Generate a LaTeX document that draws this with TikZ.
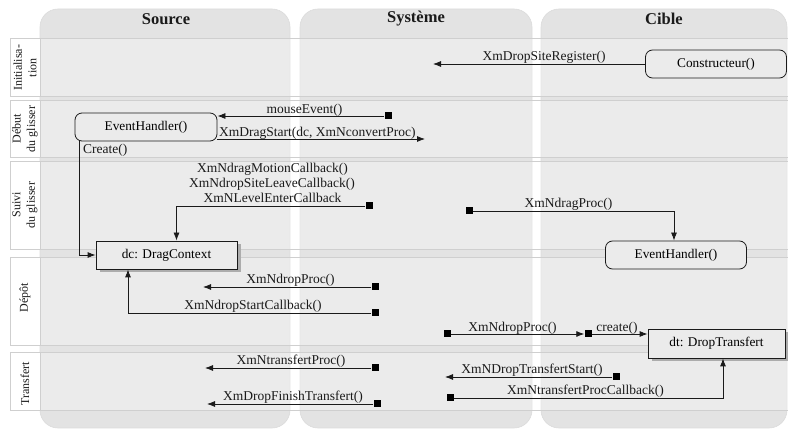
\documentclass[tikz,border=0pt]{standalone}
\usepackage{fontspec}
\setmainfont{Liberation Serif}
\usetikzlibrary{arrows.meta,shadows}
\definecolor{lanecol}{HTML}{E3E3E3}
\definecolor{rowline}{HTML}{CFCFCF}
\definecolor{boxfill}{HTML}{EBEBEB}
\definecolor{inkcol}{HTML}{1A1A1A}
\begin{document}
\begin{tikzpicture}[x=1pt,y=-1pt,
  lane/.style={fill=lanecol,draw=gray!28,line width=0.6pt,rounded corners=18pt},
  rowband/.style={fill=white,fill opacity=0.3,draw=rowline,line width=0.8pt},
  rowlab/.style={fill=white,draw=rowline,line width=0.8pt},
  rowtext/.style={rotate=90,align=center,font=\fontsize{12}{14.5}\selectfont,text=inkcol},
  lanetitle/.style={font=\fontsize{16.5}{17}\selectfont\bfseries,text=inkcol},
  roundbox/.style={draw=inkcol,line width=0.8pt,rounded corners=7pt,fill=boxfill,
    minimum width=141pt,minimum height=28pt,inner sep=0pt,font=\fontsize{13.3}{15}\selectfont},
  objbox/.style={draw=inkcol,line width=0.8pt,fill=boxfill,
    minimum height=28pt,inner sep=0pt,font=\fontsize{13.3}{15}\selectfont,
    drop shadow={shadow xshift=3.5pt,shadow yshift=-3.5pt,fill=gray!65,opacity=1}},
  sq/.style={fill=black,draw=none,minimum size=7pt,inner sep=0pt},
  arr/.style={draw=inkcol,line width=0.8pt,-{Latex[length=8pt,width=6pt]}},
  msg/.style={font=\fontsize{13.5}{15}\selectfont,text=inkcol,inner sep=0pt,anchor=base}
]
\useasboundingbox (0,0) rectangle (788,430);
% swimlanes
\path[lane] (40,9) rectangle (290,428);
\path[lane] (300,9) rectangle (532,428);
\path[lane] (541,9) rectangle (787,428);
\node[lanetitle] (tsrc) at (166,19) {Source};
\node[lanetitle] (tsys) at (416,19) {Système};
\node[lanetitle] (tcib) at (664,19) {Cible};
% rows
\path[rowband] (10,38) rectangle (788,96);
\path[rowband] (10,100) rectangle (788,157);
\path[rowband] (10,161) rectangle (788,249);
\path[rowband] (10,257) rectangle (788,345);
\path[rowband] (10,352) rectangle (788,410);
\path[rowlab] (10,38) rectangle (40,96);
\path[rowlab] (10,100) rectangle (40,157);
\path[rowlab] (10,161) rectangle (40,249);
\path[rowlab] (10,257) rectangle (40,345);
\path[rowlab] (10,352) rectangle (40,410);
\node[rowtext] (r1) at (25,68) {Initialisa-\\tion};
\node[rowtext] (r2) at (25,129) {Début\\du glisser};
\node[rowtext] (r3) at (25,205) {Suivi\\du glisser};
\node[rowtext] (r4) at (25,298) {Dépôt};
\node[rowtext] (r5) at (25,384) {Transfert};
% nodes
\node[roundbox] (cons) at (716,64) {Constructeur()};
\node[roundbox,minimum width=142pt] (ehs) at (146,127) {EventHandler()};
\node[objbox,minimum width=141pt] (dc) at (166.5,255) {dc: DragContext};
\node[roundbox] (ehc) at (676,255) {EventHandler()};
\node[objbox,minimum width=137pt,minimum height=29pt] (dt) at (716.5,343.5) {dt: DropTransfert};
% squares and free ends
\node[sq] (s1) at (388,116) {};
\node[sq] (s2) at (369,206) {};
\node[sq] (s3) at (469,211) {};
\node[sq] (s4) at (375,287) {};
\node[sq] (s5) at (375,313) {};
\node[sq] (s6) at (447,334) {};
\node[sq] (s7) at (588,334) {};
\node[sq] (s8) at (375,368) {};
\node[sq] (s9) at (377,404) {};
\node[sq] (s10) at (616,377) {};
\node[sq] (s11) at (450,398) {};
\coordinate (e1) at (433,64);
\coordinate (e2) at (425,139);
\coordinate (e4) at (203,287);
\coordinate (e8) at (205,368);
\coordinate (e9) at (207,404);
\coordinate (e10) at (445,377);
% connectors
\draw[arr] (cons.west) -- (e1);
\node[msg] (l1) at (544,60.5) {XmDropSiteRegister()};
\draw[arr] (s1) -- (s1 -| ehs.east);
\node[msg] (l2) at (304.5,114) {mouseEvent()};
\draw[arr] (e2 -| ehs.east) -- (e2);
\node[msg,anchor=base west] (l3) at (219,137) {XmDragStart(dc, XmNconvertProc)};
\draw[arr] ([xshift=5pt]ehs.south west) |- (dc.west);
\node[msg,anchor=base west] (l4) at (83,154) {Create()};
\draw[arr] (s2) -| ([xshift=10pt]dc.north);
\node[msg,anchor=base] (l5) at (272.5,203) {XmNLevelEnterCallback};
\node[msg,anchor=base] (l5b) at (272,188) {XmNdropSiteLeaveCallback()};
\node[msg,anchor=base] (l5c) at (272.5,173) {XmNdragMotionCallback()};
\draw[arr] (s3) -| ([xshift=-2pt]ehc.north);
\node[msg] (l6) at (568.5,207.5) {XmNdragProc()};
\draw[arr] (s4) -- (e4);
\node[msg] (l7) at (290.5,283.5) {XmNdropProc()};
\draw[arr] (s5) -| ([xshift=-38.5pt]dc.south);
\node[msg] (l8) at (253,309.5) {XmNdropStartCallback()};
\draw[arr] (s6) -- (s7);
\node[msg] (l9) at (512.5,331.5) {XmNdropProc()};
\draw[arr] (s7) -- (s7 -| dt.west);
\node[msg] (l10) at (617,331.5) {create()};
\draw[arr] (s8) -- (e8);
\node[msg] (l11) at (291,365) {XmNtransfertProc()};
\draw[arr] (s9) -- (e9);
\node[msg] (l12) at (293,400.5) {XmDropFinishTransfert()};
\draw[arr] (s10) -- (e10);
\node[msg] (l13) at (532,374) {XmNDropTransfertStart()};
\draw[arr] (s11) -| ([xshift=6.5pt]dt.south);
\node[msg] (l14) at (585.5,394.5) {XmNtransfertProcCallback()};
\end{tikzpicture}
\end{document}
